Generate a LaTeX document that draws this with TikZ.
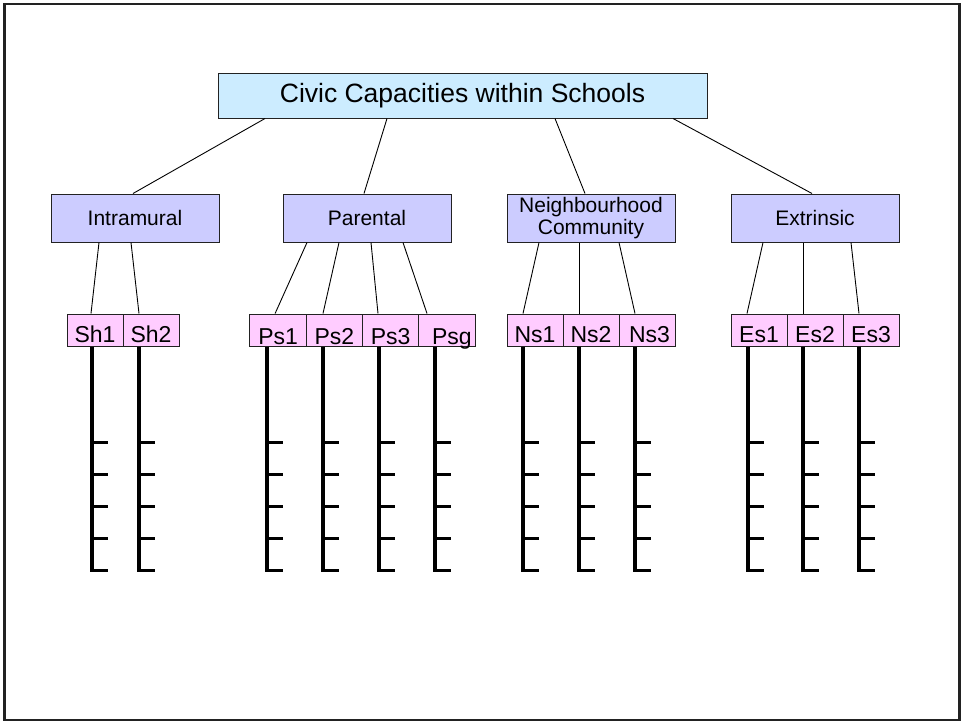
\documentclass[tikz,border=0pt]{standalone}
\usepackage{fontspec}
\setmainfont{Liberation Sans}
\definecolor{titlefill}{HTML}{CCECFF}
\definecolor{groupfill}{HTML}{CCCCFF}
\definecolor{leaffill}{HTML}{FFCCFF}
\definecolor{edge}{HTML}{222222}
\begin{document}
\begin{tikzpicture}[x=1pt,y=-1pt,
  titlebox/.style={draw=edge, line width=1pt, fill=titlefill, inner sep=0pt,
    minimum width=489pt, minimum height=45pt,
    font=\fontsize{26.5}{30}\selectfont},
  groupbox/.style={draw=edge, line width=1pt, fill=groupfill, inner sep=0pt,
    minimum width=168pt, minimum height=48pt, align=center,
    font=\fontsize{21}{22}\selectfont},
  leafbox/.style={draw=edge, line width=1pt, fill=leaffill, inner sep=0pt,
    minimum width=56pt, minimum height=32pt, text height=24pt, text depth=0pt,
    font=\fontsize{23}{25}\selectfont},
  lowleaf/.style={leafbox, text height=29pt},
  link/.style={draw=black, line width=0.9pt},
  itembar/.style={draw=black, line width=3.2pt, line cap=butt, line join=miter}
]
  % page frame
  \useasboundingbox (0,0) rectangle (961,721);
  \draw[edge, line width=2.5pt] (4.5,4) rectangle (959.5,720);

  % top of the hierarchy
  \node[titlebox] (title) at (462.5,95.5) {Civic Capacities within Schools};

  % the four kinds of capacity
  \node[groupbox] (intra) at (135,218) {Intramural};
  \node[groupbox] (par)   at (367,218) {Parental};
  \node[groupbox] (nb)    at (591,218) {Neighbourhood\\Community};
  \node[groupbox] (ex)    at (815,218) {Extrinsic};

  % sub-scales
  \node[leafbox] (sh1) at (95,330)  {Sh1};
  \node[leafbox] (sh2) at (151,330) {Sh2};

  \node[lowleaf, minimum width=56.25pt] (ps1) at (278.1,330) {Ps1};
  \node[lowleaf, minimum width=56.25pt] (ps2) at (334.4,330) {Ps2};
  \node[lowleaf, minimum width=56.25pt] (ps3) at (390.6,330) {Ps3};
  \node[lowleaf, minimum width=56.25pt] (psg) at (446.9,330) {\hspace{10pt}Psg};

  \node[leafbox] (ns1) at (535,330) {Ns1};
  \node[leafbox] (ns2) at (591,330) {Ns2\hspace{8pt}};
  \node[leafbox] (ns3) at (647,330) {\hspace{5pt}Ns3};

  \node[leafbox] (es1) at (759,330) {Es1};
  \node[leafbox] (es2) at (815,330) {Es2};
  \node[leafbox] (es3) at (871,330) {Es3\hspace{6pt}};

  % title to groups
  \draw[link] ([xshift=-197.5pt]title.south) -- ([xshift=-2pt]intra.north);
  \draw[link] ([xshift=-75.5pt]title.south)  -- ([xshift=-3pt]par.north);
  \draw[link] ([xshift=92.5pt]title.south)   -- ([xshift=-6pt]nb.north);
  \draw[link] ([xshift=210.5pt]title.south)  -- ([xshift=-3pt]ex.north);

  % groups to sub-scales
  \draw[link] ([xshift=-36pt]intra.south) -- ([xshift=-4pt]sh1.north);
  \draw[link] ([xshift=-4pt]intra.south)  -- ([xshift=-12pt]sh2.north);

  \draw[link] ([xshift=-60pt]par.south) -- ([xshift=-3pt]ps1.north);
  \draw[link] ([xshift=-28pt]par.south) -- ([xshift=-11.4pt]ps2.north);
  \draw[link] ([xshift=4pt]par.south)   -- ([xshift=-12.6pt]ps3.north);
  \draw[link] ([xshift=36pt]par.south)  -- ([xshift=-19.9pt]psg.north);

  \draw[link] ([xshift=-52pt]nb.south) -- ([xshift=-12pt]ns1.north);
  \draw[link] ([xshift=-12pt]nb.south) -- ([xshift=-12pt]ns2.north);
  \draw[link] ([xshift=28pt]nb.south)  -- ([xshift=-12pt]ns3.north);

  \draw[link] ([xshift=-52pt]ex.south) -- ([xshift=-12pt]es1.north);
  \draw[link] ([xshift=-12pt]ex.south) -- ([xshift=-12pt]es2.north);
  \draw[link] ([xshift=36pt]ex.south)  -- ([xshift=-12pt]es3.north);

  % item scales hanging below each sub-scale
  \foreach \n/\o in {sh1/-3, sh2/-12, ps1/-11.1, ps2/-11.4, ps3/-11.6, psg/-11.9,
                     ns1/-12, ns2/-12, ns3/-12, es1/-11, es2/-12, es3/-12}{
    \draw[itembar] ([xshift=\o pt]\n.south) -- ++(0,224) -- ++(16,0);
    \foreach \d in {96,128,160,192}{
      \draw[itembar] ([xshift=\o pt, yshift=-\d pt]\n.south) -- ++(16,0);
    }
  }
\end{tikzpicture}
\end{document}
